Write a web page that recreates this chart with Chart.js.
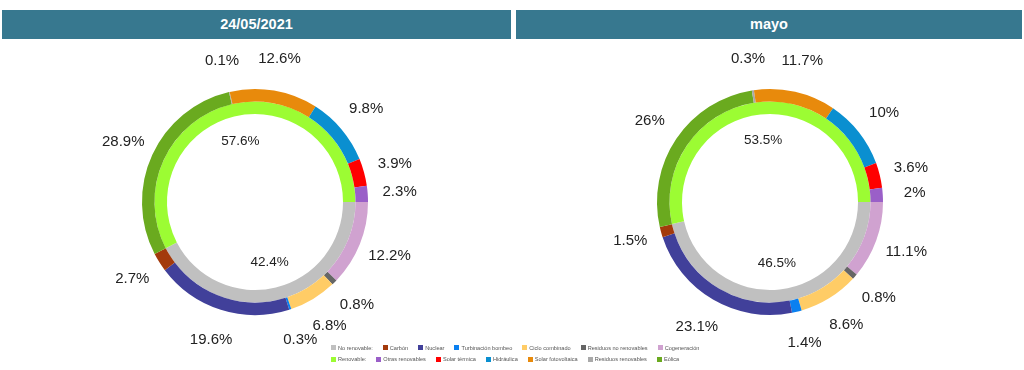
<!DOCTYPE html>
<html><head><meta charset="utf-8">
<script src="https://cdn.jsdelivr.net/npm/chart.js@4"></script>
<style>
html,body{margin:0;padding:0;background:#fff;width:1024px;height:370px;overflow:hidden;font-family:"Liberation Sans",Arial,Helvetica,sans-serif;}
.hdr{position:absolute;top:10px;height:29px;background:#37788f;color:#fff;font-weight:bold;font-size:14.5px;line-height:29px;text-align:center;}
canvas{position:absolute;top:0;}
#legend{position:absolute;left:331px;top:342px;font-size:5.6px;color:#555;}
.row{display:flex;height:11.5px;align-items:center;white-space:nowrap}
.item{display:flex;align-items:center;margin-right:10px}
.box{width:5px;height:5px;margin-right:2px}
</style></head>
<body>
<div class="hdr" id="h0" style="left:2px;width:509px;"></div>
<div class="hdr" id="h1" style="left:516px;width:506px;"></div>
<canvas id="c0" width="512" height="370" style="left:0"></canvas>
<canvas id="c1" width="512" height="370" style="left:512px"></canvas>
<div id="legend"></div>
<script>
// ---- data ----
const titles = ['24/05/2021', 'mayo'];
const groupLabels = ['No renovable:', 'Renovable:'];
const noRenLabels = ['Carbón', 'Nuclear', 'Turbinación bombeo', 'Ciclo combinado', 'Residuos no renovables', 'Cogeneración'];
const renLabels = ['Otras renovables', 'Solar térmica', 'Hidráulica', 'Solar fotovoltaica', 'Residuos renovables', 'Eólica'];
const dayNoRen = [2.7, 19.6, 0.3, 6.8, 0.8, 12.2];
const dayRen = [2.3, 3.9, 9.8, 12.6, 0.1, 28.9];
const dayTotals = [42.4, 57.6];   // No renovable, Renovable
const monthNoRen = [1.5, 23.1, 1.4, 8.6, 0.8, 11.1];
const monthRen = [2, 3.6, 10, 11.7, 0.3, 26];
const monthTotals = [46.5, 53.5]; // No renovable, Renovable

// ---- styles ----
const groupColors = ['#c0c0c0', '#9cfc33'];
const noRenColors = ['#a33a0c', '#41409a', '#0a80f0', '#ffcc66', '#666666', '#d0a2d0'];
const renColors = ['#9a5fc8', '#ff0000', '#0a8fd0', '#e88a0c', '#a9a9a9', '#6aaa1f'];

const rev = a => a.slice().reverse();

const pctLabels = {
  id: 'pctLabels',
  afterDatasetsDraw(chart) {
    const ctx = chart.ctx;
    ctx.save();
    ctx.fillStyle = '#222';
    ctx.textAlign = 'center';
    ctx.textBaseline = 'middle';
    chart.data.datasets.forEach((ds, di) => {
      const meta = chart.getDatasetMeta(di);
      ctx.font = (di === 0 ? '15px' : '13.5px') + ' "Liberation Sans", Arial, sans-serif';
      meta.data.forEach((arc, i) => {
        const p = arc.getProps(['x', 'y', 'startAngle', 'endAngle', 'outerRadius'], true);
        const a = (p.startAngle + p.endAngle) / 2;
        const r = di === 0 ? p.outerRadius + 32 : 62;
        ctx.fillText(ds.data[i] + '%', p.x + Math.cos(a) * r, p.y + Math.sin(a) * r);
      });
    });
    ctx.restore();
  }
};

function makeChart(id, noRen, ren, totals, pad) {
  new Chart(document.getElementById(id), {
    type: 'doughnut',
    data: {
      labels: rev(noRenLabels).concat(rev(renLabels)),
      datasets: [
        {
          data: rev(noRen).concat(rev(ren)),
          backgroundColor: rev(noRenColors).concat(rev(renColors)),
          borderWidth: 0, hoverOffset: 0, offset: 0
        },
        {
          data: totals,
          backgroundColor: groupColors,
          borderWidth: 0, hoverOffset: 0, offset: 0
        }
      ]
    },
    options: {
      responsive: false,
      animation: false,
      events: [],
      rotation: 90,
      cutout: '77.9%',
      layout: { padding: pad },
      plugins: { legend: { display: false }, tooltip: { enabled: false } }
    },
    plugins: [pctLabels]
  });
}

document.getElementById('h0').textContent = titles[0];
document.getElementById('h1').textContent = titles[1];
makeChart('c0', dayNoRen, dayRen, dayTotals, { left: 142, right: 144, top: 89, bottom: 55 });
makeChart('c1', monthNoRen, monthRen, monthTotals, { left: 145, right: 141, top: 89, bottom: 55 });

// ---- HTML legend ----
const legend = document.getElementById('legend');
[[groupLabels[0], groupColors[0], noRenLabels, noRenColors], [groupLabels[1], groupColors[1], renLabels, renColors]].forEach(([gl, gc, labs, cols]) => {
  const row = document.createElement('div');
  row.className = 'row';
  const add = (t, c) => {
    const it = document.createElement('div'); it.className = 'item';
    const b = document.createElement('div'); b.className = 'box'; b.style.background = c;
    const s = document.createElement('span'); s.textContent = t;
    it.appendChild(b); it.appendChild(s); row.appendChild(it);
  };
  add(gl, gc);
  labs.forEach((l, i) => add(l, cols[i]));
  legend.appendChild(row);
});
</script>
</body></html>
